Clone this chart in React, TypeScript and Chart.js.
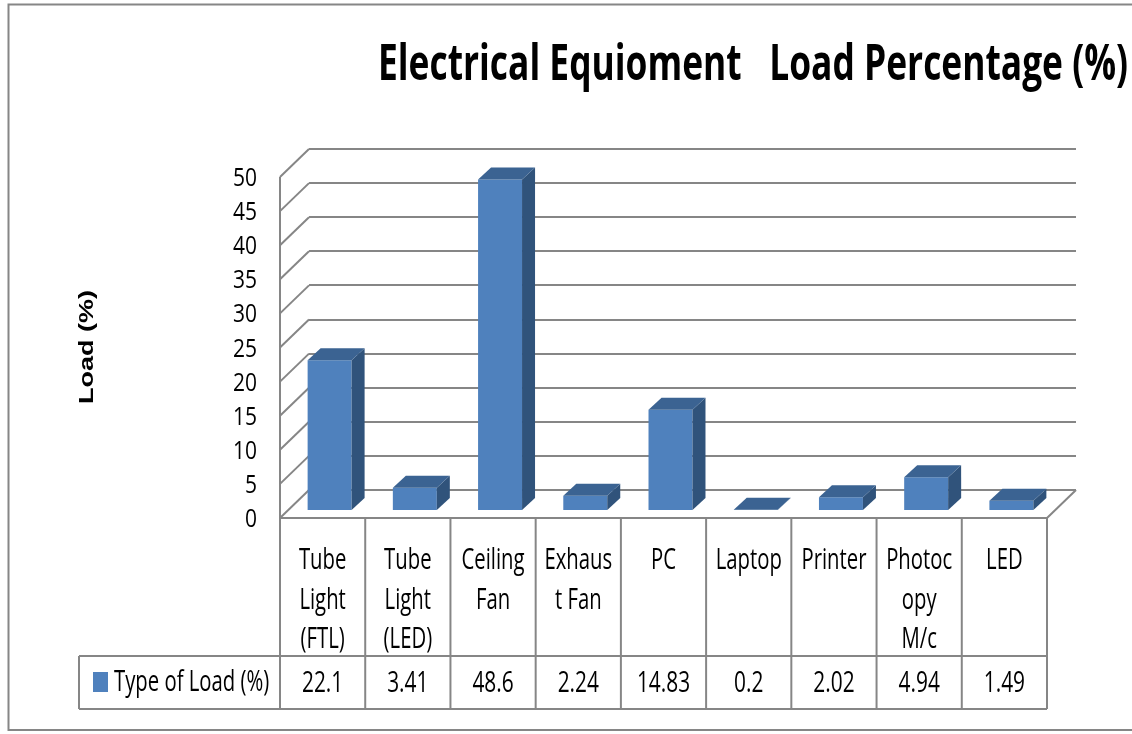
import React, { useEffect, useRef } from "react";
import { Chart, registerables } from "chart.js";

Chart.register(...registerables);

const chartTitle = "Electrical Equioment   Load Percentage (%)";
const yAxisTitle = "Load (%)";
const seriesName = "Type of Load (%)";
const categories: string[][] = [
  ["Tube", "Light", "(FTL)"],
  ["Tube", "Light", "(LED)"],
  ["Ceiling", "Fan"],
  ["Exhaus", "t Fan"],
  ["PC"],
  ["Laptop"],
  ["Printer"],
  ["Photoc", "opy", "M/c"],
  ["LED"],
];
const loadValues = [22.1, 3.41, 48.6, 2.24, 14.83, 0.2, 2.02, 4.94, 1.49];
const yMin = 0;
const yMax = 50;
const yStep = 5;

const W = 1132;
const H = 734;
const DEPTH_X = 29;
const DEPTH_Y = 28;
const FRONT_X = -22;
const FRONT_Y = 21;
const BAR_DX = 13;
const BAR_DY = 12;
const LINE = "#868686";
const FRONT = "#4F81BD";
const SIDE = "#30537B";
const TOP = "#3B6392";
const FONT = "'Open Sans', 'Noto Sans', sans-serif";

function drawText(
  ctx: CanvasRenderingContext2D,
  s: string,
  x: number,
  y: number,
  font: string,
  sx: number,
  align: CanvasTextAlign,
  baseline: CanvasTextBaseline = "alphabetic"
) {
  ctx.save();
  ctx.translate(x, y);
  ctx.scale(sx, 1);
  ctx.font = font;
  ctx.textAlign = align;
  ctx.textBaseline = baseline;
  ctx.fillStyle = "#000";
  ctx.fillText(s, 0, 0);
  ctx.restore();
}

function line(ctx: CanvasRenderingContext2D, x1: number, y1: number, x2: number, y2: number) {
  ctx.beginPath();
  ctx.moveTo(x1, y1);
  ctx.lineTo(x2, y2);
  ctx.stroke();
}

const excel3d = {
  id: "excel3d",
  beforeDatasetsDraw(chart: any) {
    const { ctx, chartArea } = chart;
    const ys = chart.scales.y;
    ctx.save();
    ctx.strokeStyle = LINE;
    ctx.lineWidth = 2;
    const fl = chartArea.left - DEPTH_X;
    const fr = chartArea.right - DEPTH_X;
    // left side wall
    line(ctx, fl, ys.getPixelForValue(yMax) + DEPTH_Y, fl, ys.getPixelForValue(yMin) + DEPTH_Y);
    ys.ticks.forEach((t: any) => {
      const yb = ys.getPixelForValue(t.value);
      line(ctx, fl, yb + DEPTH_Y, chartArea.left, yb);
    });
    // floor
    const y0 = ys.getPixelForValue(yMin);
    line(ctx, fl, y0 + DEPTH_Y, fr, y0 + DEPTH_Y);
    line(ctx, fr, y0 + DEPTH_Y, chartArea.right, y0);
    ctx.restore();
    ctx.save();
    ctx.translate(FRONT_X, FRONT_Y);
  },
  afterDatasetsDraw(chart: any) {
    const { ctx } = chart;
    ctx.restore();
    const meta = chart.getDatasetMeta(0);
    ctx.save();
    meta.data.forEach((bar: any) => {
      const L = bar.x - bar.width / 2 + FRONT_X;
      const R = bar.x + bar.width / 2 + FRONT_X;
      const T = bar.y + FRONT_Y;
      const B = bar.base + FRONT_Y;
      ctx.fillStyle = SIDE;
      ctx.beginPath();
      ctx.moveTo(R, T);
      ctx.lineTo(R + BAR_DX, T - BAR_DY);
      ctx.lineTo(R + BAR_DX, B - BAR_DY);
      ctx.lineTo(R, B);
      ctx.closePath();
      ctx.fill();
      ctx.fillStyle = TOP;
      ctx.beginPath();
      ctx.moveTo(L, T);
      ctx.lineTo(R, T);
      ctx.lineTo(R + BAR_DX, T - BAR_DY);
      ctx.lineTo(L + BAR_DX, T - BAR_DY);
      ctx.closePath();
      ctx.fill();
    });
    ctx.restore();
  },
  afterDraw(chart: any) {
    const { ctx, chartArea } = chart;
    const ys = chart.scales.y;
    ctx.save();
    // outer border
    ctx.strokeStyle = LINE;
    ctx.lineWidth = 2;
    ctx.strokeRect(8.5, 4.5, W + 20, 725.5);

    // title
    ctx.font = `bold 51px ${FONT}`;
    const tw = ctx.measureText(chartTitle).width;
    drawText(ctx, chartTitle, 378, 80, `bold 51px ${FONT}`, 750 / tw, "left");

    // y axis title
    ctx.save();
    ctx.translate(93, 347);
    ctx.scale(0.72, 1);
    ctx.rotate(-Math.PI / 2);
    ctx.font = "bold 27px 'Liberation Sans', Arial, sans-serif";
    ctx.textAlign = "center";
    ctx.textBaseline = "alphabetic";
    ctx.fillStyle = "#000";
    ctx.fillText(yAxisTitle, 0, 0);
    ctx.restore();

    // y tick labels on the front plane
    ys.ticks.forEach((t: any) => {
      const y = ys.getPixelForValue(t.value) + DEPTH_Y + 9;
      drawText(ctx, String(t.value), 257, y, `25px ${FONT}`, 0.84, "right");
    });

    // data table
    const fl = chartArea.left - DEPTH_X;
    const n = categories.length;
    const cw = (chartArea.right - chartArea.left) / n;
    const yTop = ys.getPixelForValue(yMin) + DEPTH_Y;
    const yMid = 656;
    const yBot = 709;
    const xLeg = 79;
    ctx.strokeStyle = LINE;
    ctx.lineWidth = 2;
    for (let i = 0; i <= n; i++) {
      const x = fl + i * cw;
      line(ctx, x, yTop, x, yBot);
    }
    line(ctx, xLeg, yMid, xLeg, yBot);
    line(ctx, xLeg, yMid, fl + n * cw, yMid);
    line(ctx, xLeg, yBot, fl + n * cw, yBot);

    const f = `29px ${FONT}`;
    categories.forEach((lines, i) => {
      const cx = fl + (i + 0.5) * cw;
      lines.forEach((s, j) => {
        drawText(ctx, s, cx, 569 + j * 39.5, f, 0.7, "center");
      });
      drawText(ctx, String(loadValues[i]), cx, 692, f, 0.72, "center");
    });
    ctx.fillStyle = FRONT;
    ctx.fillRect(93, 672, 15, 20);
    drawText(ctx, seriesName, 114, 691, f, 0.7, "left");
    ctx.restore();
  },
};

export default function App() {
  const ref = useRef<HTMLCanvasElement | null>(null);
  useEffect(() => {
    document.body.style.margin = "0";
    const canvas = ref.current;
    if (!canvas) return;
    const chart = new Chart(canvas, {
      type: "bar",
      data: {
        labels: categories,
        datasets: [
          {
            label: seriesName,
            data: loadValues,
            backgroundColor: FRONT,
            borderWidth: 0,
            barPercentage: 0.516,
            categoryPercentage: 1,
            clip: false,
          } as any,
        ],
      },
      options: {
        responsive: false,
        animation: false,
        devicePixelRatio: 1,
        layout: { padding: { left: 309, right: W - 1076, top: 149, bottom: H - 490 } },
        plugins: {
          legend: { display: false },
          title: { display: false },
          tooltip: { enabled: false },
        },
        scales: {
          x: { display: false, offset: true },
          y: {
            min: yMin,
            max: yMax,
            ticks: { display: false, stepSize: yStep },
            grid: { color: LINE, lineWidth: 2, drawTicks: false },
            border: { display: false },
          },
        },
      },
      plugins: [excel3d],
    });
    return () => chart.destroy();
  }, []);
  return <canvas ref={ref} width={W} height={H} style={{ display: "block", width: W, height: H }} />;
}
